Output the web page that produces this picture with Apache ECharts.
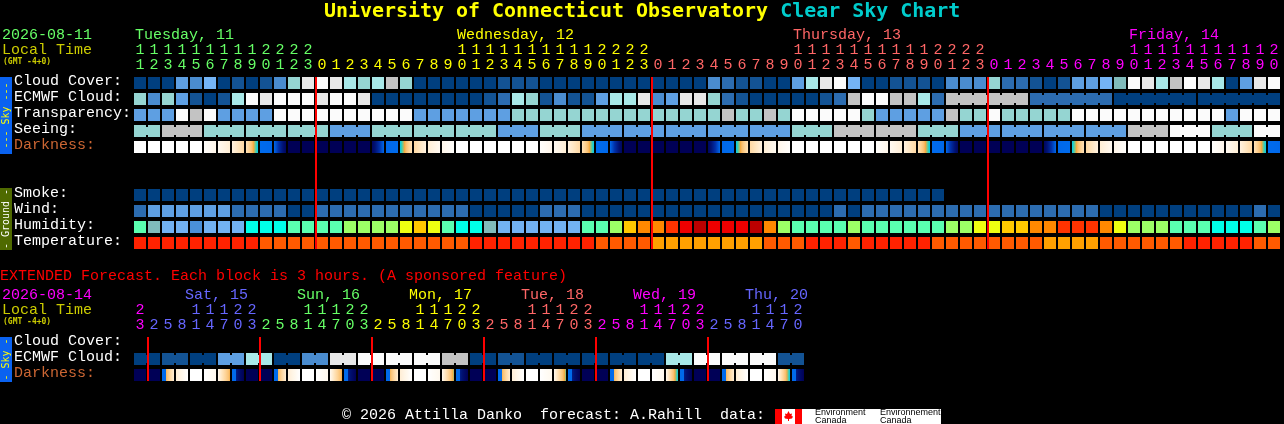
<!DOCTYPE html>
<html>
<head>
<meta charset="utf-8">
<style>html,body{margin:0;padding:0;background:#000}#c{width:1284px;height:424px}</style>
<script src="https://cdn.jsdelivr.net/npm/echarts@6/dist/echarts.min.js"></script>
</head>
<body>
<div id="c"></div>
<script>
// ---------- data ----------
const mainHours = [11,12,13,14,15,16,17,18,19,20,21,22,23,
  0,1,2,3,4,5,6,7,8,9,10,11,12,13,14,15,16,17,18,19,20,21,22,23,
  0,1,2,3,4,5,6,7,8,9,10,11,12,13,14,15,16,17,18,19,20,21,22,23,
  0,1,2,3,4,5,6,7,8,9,10,11,12,13,14,15,16,17,18,19,20];
const extHours = [23,2,5,8,11,14,17,20,23,2,5,8,11,14,17,20,23,2,5,8,11,14,17,20,23,
  2,5,8,11,14,17,20,23,2,5,8,11,14,17,20,23,2,5,8,11,14,17,20];
const mainDayNames = ['Tuesday, 11','Wednesday, 12','Thursday, 13','Friday, 14'];
const mainDayCols = [0,23,47,71];
const extDayNames = ['Sat, 15','Sun, 16','Mon, 17','Tue, 18','Wed, 19','Thu, 20'];
const extDayCols = [4,12,20,28,36,44];
const mainMidnights = [13,37,61];
const extMidnights = [1,9,17,25,33,41];
const skyRows = ['Cloud Cover:','ECMWF Cloud:','Transparency:','Seeing:','Darkness:'];
const groundRows = ['Smoke:','Wind:','Humidity:','Temperature:'];
const extRows = ['Cloud Cover:','ECMWF Cloud:','Darkness:'];

const cloudCover = [0,0,0,4,3,5,0,1,0,1,3,7,10,11,10,8,7,8,9,7,0,
  0,0,0,0,0,1,1,1,0,0,0,0,0,0,0,0,0,0,0,0,3,2,1,1,0,0,4,8,10,11,5,
  0,0,1,1,1,0,3,3,3,7,2,2,1,0,1,4,4,5,6,11,10,8,9,11,10,8,0,4,10,11];
const ecmwfCloud = [7,3,7,4,1,0,1,8,11,10,11,11,11,10,11,11,10,0,0,0,0,
  0,0,0,0,1,2,8,7,1,3,1,1,4,8,8,10,3,4,10,10,7,2,1,0,0,0,0,0,1,2,9,
  11,11,9,9,8,2,9,9,9,9,9,9,2,2,2,2,2,2,0,0,0,0,0,0,0,0,0,0,0,0];
const transparency = [4,4,4,11,9,11,4,4,4,4,11,11,11,11,11,11,11,11,11,11,4,
  4,4,4,4,4,4,7,7,7,7,7,7,7,7,7,7,7,7,7,7,7,9,7,7,9,7,11,11,11,11,11,
  7,4,4,4,4,4,9,7,7,11,7,7,7,7,7,11,11,11,11,11,11,11,11,11,11,11,4,11,11,11];
const seeing = [7,7,9,9,9,7,7,7,7,7,7,7,7,7,4,4,4,7,7,7,7,7,7,7,7,7,4,4,4,7,7,7,
  4,4,4,4,4,4,4,4,4,4,4,4,4,4,4,7,7,7,9,9,9,9,9,9,7,7,7,4,4,4,4,4,4,4,4,4,4,4,4,
  9,9,9,11,11,11,7,7,7,11,11];
const darkStart = [0,0,0,0,0,0.1,0.4,0.9,2,6.8,7,10,10,10,10,10,10,9.6,7,6.1,2.6,1.2,0.6,
  0,0,0,0,0,0,0.1,0.4,0.9,2,6.8,7,10,10,10,10,10,10,9.6,7,6.1,2.6,1.2,0.6,
  0,0,0,0,0,0,0.1,0.4,0.9,2,6.8,7,10,10,10,10,10,10,9.6,7,6.1,2.6,1.2,0.6,
  0,0,0,0,0,0,0.1,0.4,0.9,2,6.8];
const darkEnd = [0,0,0,0,0,0.6,1.2,2.6,6.1,7,9.6,10,10,10,10,10,10,7,6.8,2,0.9,0.4,0.1,
  0,0,0,0,0,0,0.6,1.2,2.6,6.1,7,9.6,10,10,10,10,10,10,7,6.8,2,0.9,0.4,0.1,
  0,0,0,0,0,0,0.6,1.2,2.6,6.1,7,9.6,10,10,10,10,10,10,7,6.8,2,0.9,0.4,0.1,
  0,0,0,0,0,0,0.6,1.2,2.6,6.1,7];
const smoke = [0,0,0,0,0,0,0,0,0,0,0,0,0,0,0,0,0,0,0,0,0,0,0,0,0,0,0,0,0,
  0,0,0,0,0,0,0,0,0,0,0,0,0,0,0,0,0,0,0,0,0,0,0,0,0,0,0,0,0];
const wind = [2,4,4,4,4,4,4,2,2,2,2,0,0,2,2,2,2,2,2,2,2,
  2,2,2,0,0,0,0,0,2,2,2,0,0,0,0,0,0,0,0,0,0,0,0,0,0,0,0,0,0,2,0,
  2,2,2,2,2,2,2,2,2,2,2,2,2,2,2,2,2,0,0,0,0,0,0,0,0,0,0,0,2,0];
const humidity = [4,2,1,1,0,1,1,1,3,3,3,4,4,4,4,5,5,5,5,6,7,
  6,4,3,3,2,1,1,1,1,1,1,4,4,5,7,8,8,9,10,11,10,10,10,11,8,5,4,4,4,4,5,
  4,4,4,4,4,4,5,5,6,6,7,7,8,8,9,9,9,8,6,5,5,5,4,4,4,3,3,3,4,5];
const temperature = [0,0,0,0,0,0,0,0,0,1,1,1,1,1,1,1,1,1,1,1,1,
  1,1,1,0,0,0,0,0,0,0,0,0,1,1,1,1,2,2,2,2,2,2,2,2,1,1,1,0,0,0,1,
  0,0,0,0,0,1,1,1,1,1,1,1,1,2,2,2,2,1,1,1,1,1,1,0,0,0,0,0,1,1];
const extEcmwf = [0,0,1,1,0,0,4,4,8,8,0,0,3,3,10,10,11,11,11,11,11,11,9,9,
  0,0,1,1,0,0,0,0,0,0,0,0,0,0,8,8,11,11,11,11,11,11,1,1];
const extDarkStart = [10,10,6.9,1.2,0,0,0.5,6.9,10,10,6.9,1.2,0,0,0.4,6.9,10,10,6.9,1.2,0,0,0.5,6.9,
  10,10,6.9,1.2,0,0,0.5,6.9,10,10,6.9,1.2,0,0,0.5,6.9,10,10,6.9,1.2,0,0,0.5,6.9];
const extDarkMid = [null,null,4.3,null,null,null,null,8.6,null,null,4.3,null,null,null,null,8.6,null,null,4.3,null,null,null,null,8.6,
  null,null,4.3,null,null,null,null,8.6,null,null,4.3,null,null,null,null,8.6,null,null,4.3,null,null,null,null,8.6];
const extDarkEnd = [10,10,1.2,0,0,0.5,4.4,10,10,10,1.2,0,0,0.5,4.5,10,10,10,1.2,0,0,0.5,5,10,
  10,10,1.2,0,0,0.5,5.2,10,10,10,1.2,0,0,0.5,6,10,10,10,1.2,0,0,0.5,6.1,10];

// ---------- palette ----------
const skyPalette = ['#003f7f','#135394','#2c6cb0','#4a8ccf','#5e9fe2','#74b4f6','#80bbbb','#95d5d2','#a8e8e8','#c3c3c3','#e8e8e8','#fbfbfb'];
const humidityPalette = ['#4a90d8','#72b2f2','#80bbbb','#00ffe8','#5affb0','#9cff66','#eeff11','#ffc800','#ff8800','#ff3300','#ee0000','#bb0000'];
const temperaturePalette = ['#ff2200','#ff5a00','#ffa000'];
const darkRamp = [[0,'#ffffff'],[1,'#fff1dc'],[2,'#ffe2b8'],[3,'#fed396'],[4,'#fac070'],[4.6,'#f4aa40'],
  [5.2,'#70c890'],[5.7,'#20d0c8'],[6.1,'#00c8f0'],[6.5,'#0070f0'],[7,'#0068ea'],[8,'#0030a8'],[9,'#001070'],[10,'#000056']];
const mainColors = ['#66ff66','#ffff00','#ff6666','#ff00ff'];
const extColors = ['#ff00ff','#6666ff','#66ff66','#ffff00','#ff6666','#ff00ff','#6666ff'];

// ---------- helpers ----------
const MONO = '"Liberation Mono", monospace';
const BOLD = '"DejaVu Sans Mono", monospace';
function hex(c){return [1,3,5].map(i=>parseInt(c.substr(i,2),16));}
function rampColor(v){
  for(let i=1;i<darkRamp.length;i++){
    if(v<=darkRamp[i][0]){
      const [a,ca]=darkRamp[i-1],[b,cb]=darkRamp[i],t=(v-a)/(b-a),x=hex(ca),y=hex(cb);
      return 'rgb('+x.map((n,j)=>Math.round(n+(y[j]-n)*t)).join(',')+')';
    }
  }
  return darkRamp[darkRamp.length-1][1];
}
function darkFill(a,m,b){
  const stops=[];
  const ramp=(from,to,o0,o1)=>{for(let i=0;i<=8;i++) stops.push({offset:o0+(o1-o0)*i/8,color:rampColor(from+(to-from)*i/8)});};
  if(m===null||m===undefined||isNaN(m)) ramp(a,b,0,1);
  else {stops.push({offset:0,color:rampColor(a)},{offset:.33,color:rampColor(a)}); ramp(m,b,.34,1);}
  return new echarts.graphic.LinearGradient(0,0,1,0,stops);
}
function dayIndex(i,mids){let d=0;mids.forEach(m=>{if(i>=m)d++;});return d;}
function cells(values,row,joins){
  const out=[];
  values.forEach((v,i)=>{ if(v!==null) out.push([i,row,v,joins?joins(i):0]); });
  return out;
}
function blockSeries(xi,yi,data,palette){
  return {type:'custom',coordinateSystem:'cartesian2d',xAxisIndex:xi,yAxisIndex:yi,data,silent:true,
    encode:{x:0,y:1},
    renderItem(p,api){
      const c=api.coord([api.value(0),api.value(1)]),fill=palette[api.value(2)];
      const x=c[0]-6,y=c[1]-6;
      const kids=[{type:'rect',shape:{x,y,width:12,height:12},style:{fill}}];
      if(api.value(3)) kids.push({type:'rect',shape:{x:x+12,y:y+2,width:2,height:8},style:{fill}});
      return {type:'group',children:kids};
    }};
}
function darkSeries(xi,yi,row,starts,ends,mids){
  return {type:'custom',coordinateSystem:'cartesian2d',xAxisIndex:xi,yAxisIndex:yi,silent:true,
    data:starts.map((s,i)=>[i,row,s,ends[i]]),encode:{x:0,y:1},
    renderItem(p,api){
      const col=api.value(0),c=api.coord([col,api.value(1)]);
      return {type:'rect',shape:{x:c[0]-6,y:c[1]-6,width:12,height:12},
        style:{fill:darkFill(api.value(2),mids?mids[col]:null,api.value(3))}};
    }};
}
function midnightSeries(xi,yi,mids){
  return {type:'custom',coordinateSystem:'cartesian2d',xAxisIndex:xi,yAxisIndex:yi,silent:true,z:10,
    data:mids.map(m=>[m]),encode:{x:0},
    renderItem(p,api){
      const a=api.coord([api.value(0),0]),b=api.coord([api.value(0),1]);
      return {type:'rect',shape:{x:a[0],y:b[1],width:2,height:a[1]-b[1]},style:{fill:'#ff0000'}};
    }};
}
function dayLabelSeries(xi,yi,cols,names,colorFor,dx,dy){
  return {type:'custom',coordinateSystem:'cartesian2d',xAxisIndex:xi,yAxisIndex:yi,silent:true,
    data:cols.map((c,i)=>[c,0,i]),encode:{x:0,y:1},
    renderItem(p,api){
      const c=api.coord([api.value(0),0]),i=api.value(2);
      return {type:'text',x:c[0]+dx,y:c[1]+dy,style:{text:names[i],fill:colorFor(i),font:'15px '+MONO,align:'left',verticalAlign:'middle'}};
    }};
}
function digitAxis(grid,hours,mids,colors,digit){
  const gap=digit==='u'?0:15;
  return {type:'category',gridIndex:grid,position:'top',offset:gap,data:hours.map((h,i)=>i),
    axisLine:{show:false},axisTick:{show:false},splitLine:{show:false},
    axisLabel:{show:true,interval:0,margin:2,hideOverlap:false,fontFamily:MONO,fontSize:15,lineHeight:15,
      color:(v,i)=>colors[dayIndex(+i,mids)],
      formatter:(v)=>{const h=hours[+v];return digit==='u'?String(h%10):(h>=10?String(Math.floor(h/10)):'');}}};
}
function rowAxis(grid,rows){
  return {type:'category',gridIndex:grid,inverse:true,data:rows,
    axisLine:{show:false},axisTick:{show:false},splitLine:{show:false},
    axisLabel:{show:true,interval:0,margin:119,align:'left',verticalAlign:'bottom',lineHeight:4,fontFamily:MONO,fontSize:15,
      color:v=>v==='Darkness:'?'#cc6633':'#ffffff'}};
}
function plainValueX(grid,max){return {type:'value',gridIndex:grid,min:0,max,show:false};}
function plainValueY(grid){return {type:'value',gridIndex:grid,min:0,max:1,show:false};}
function stext(x,y,text,fill,font){
  return {type:'text',x,y,silent:true,style:{text,fill,font:font||('15px '+MONO),verticalAlign:'middle'}};
}
function sideBar(y,h,color,label,fill){
  return [
    {type:'rect',shape:{x:0,y,width:12,height:h},style:{fill:color},silent:true},
    {type:'text',x:6,y:y+h/2,rotation:Math.PI/2,silent:true,style:{text:label,fill,font:'10px '+BOLD,align:'center',verticalAlign:'middle'}}
  ];
}

// ---------- chart ----------
const chart = echarts.init(document.getElementById('c'),null,{renderer:'canvas'});
const ecmwfJoin=i=>(i>=58&&i<81&&(i-58)%6!==5)?1:0;
const seeingJoin=i=>(i<81&&i!==1&&(i-2)%3!==2)?1:0;
const extJoin=i=>i%2===0?1:0;

chart.setOption({
  backgroundColor:'#000000',
  animation:false,
  title:{left:324,top:0,padding:0,text:'{a|University of Connecticut Observatory }{b|Clear Sky Chart}',
    textStyle:{rich:{
      a:{fontFamily:BOLD,fontSize:19.95,fontWeight:'bold',color:'#ffff00',lineHeight:24},
      b:{fontFamily:BOLD,fontSize:19.95,fontWeight:'bold',color:'#00cccc',lineHeight:24}}}},
  grid:[
    {left:133,top:75,width:1148,height:80},
    {left:133,top:187,width:1148,height:64},
    {left:133,top:335,width:672,height:48},
    {left:133,top:77,width:1148,height:172},
    {left:133,top:337,width:672,height:44}
  ],
  xAxis:[
    digitAxis(0,mainHours,mainMidnights,mainColors,'u'),
    digitAxis(0,mainHours,mainMidnights,mainColors,'t'),
    {type:'category',gridIndex:1,data:mainHours.map((h,i)=>i),show:false},
    digitAxis(2,extHours,extMidnights,extColors,'u'),
    digitAxis(2,extHours,extMidnights,extColors,'t'),
    plainValueX(3,82),
    plainValueX(4,48)
  ],
  yAxis:[
    rowAxis(0,skyRows),
    rowAxis(1,groundRows),
    rowAxis(2,extRows),
    plainValueY(3),
    plainValueY(4)
  ],
  series:[
    blockSeries(0,0,cells(cloudCover,0),skyPalette),
    blockSeries(0,0,cells(ecmwfCloud,1,ecmwfJoin),skyPalette),
    blockSeries(0,0,cells(transparency,2),skyPalette),
    blockSeries(0,0,cells(seeing,3,seeingJoin),skyPalette),
    darkSeries(0,0,4,darkStart,darkEnd),
    blockSeries(2,1,cells(smoke,0),skyPalette),
    blockSeries(2,1,cells(wind,1),skyPalette),
    blockSeries(2,1,cells(humidity,2),humidityPalette),
    blockSeries(2,1,cells(temperature,3),temperaturePalette),
    blockSeries(3,2,cells(extEcmwf,1,extJoin),skyPalette),
    darkSeries(3,2,2,extDarkStart,extDarkEnd,extDarkMid),
    dayLabelSeries(0,0,mainDayCols,mainDayNames,i=>mainColors[i],-5,-48),
    dayLabelSeries(3,2,extDayCols,extDayNames,i=>extColors[i+1],-11,-48),
    midnightSeries(5,3,mainMidnights),
    midnightSeries(6,4,extMidnights)
  ],
  graphic:{elements:[
    ...sideBar(77,77,'#0a62f0','--- Sky ---','#ffff00'),
    ...sideBar(188,62,'#4f6a00','- Ground -','#ffffff'),
    ...sideBar(337,45,'#0a62f0','- Sky -','#ffff00'),
    stext(2,35,'2026-08-11','#66ff66'),
    stext(2,50,'Local Time','#cccc00'),
    stext(3,62,'(GMT -4+0)','#cccc00','bold 8px '+BOLD),
    stext(0,276,'EXTENDED Forecast. Each block is 3 hours. (A sponsored feature)','#ff0000'),
    stext(2,295,'2026-08-14','#ff00ff'),
    stext(2,310,'Local Time','#cccc00'),
    stext(3,322,'(GMT -4+0)','#cccc00','bold 8px '+BOLD),
    stext(342,415,'\u00a9 2026 Attilla Danko  forecast: A.Rahill  data:','#ffffff'),
    {type:'rect',shape:{x:775,y:409,width:166,height:15},style:{fill:'#ffffff'},silent:true},
    {type:'rect',shape:{x:775,y:409,width:7,height:15},style:{fill:'#ff0000'},silent:true},
    {type:'rect',shape:{x:795,y:409,width:7,height:15},style:{fill:'#ff0000'},silent:true},
    {type:'polygon',silent:true,shape:{points:[[788.5,411],[790,414],[792,413.5],[791.5,416],[793,416.5],[792,418.5],[789,419],[789,421],[788,421],[788,419],[785,418.5],[784,416.5],[785.5,416],[785,413.5],[787,414]]},style:{fill:'#ff0000'}},
    stext(815,413,'Environment','#000000','9px "Liberation Sans"'),
    stext(815,421,'Canada','#000000','9px "Liberation Sans"'),
    stext(880,413,'Environnement','#000000','9px "Liberation Sans"'),
    stext(880,421,'Canada','#000000','9px "Liberation Sans"')
  ]}
});
</script>
</body>
</html>
